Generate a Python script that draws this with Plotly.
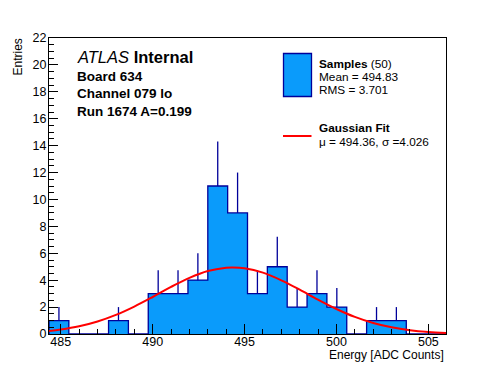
import numpy as np
import plotly.graph_objects as go

# ---------------- data ----------------
bin_low = 484.36
bin_width = 1.08
counts = [1, 0, 0, 1, 0, 3, 3, 4, 11, 9, 3, 5, 2, 3, 2, 0, 1, 1, 0, 0]

fit_x = [484.36, 485, 486, 487, 488, 489, 490, 491, 492, 493, 494, 494.36,
         495, 496, 497, 498, 499, 500, 501, 502, 503, 504, 505, 505.96]
fit_y = [0.226, 0.332, 0.573, 0.931, 1.42, 2.04, 2.75, 3.50, 4.17, 4.68, 4.93, 4.95,
         4.89, 4.56, 3.99, 3.29, 2.55, 1.86, 1.27, 0.818, 0.495, 0.282, 0.151, 0.078]

x_ticks = [485, 490, 495, 500, 505]
y_ticks = [0, 2, 4, 6, 8, 10, 12, 14, 16, 18, 20, 22]

# ---------------- styling ----------------
FILL = "#0a9bfb"
EDGE = "#00009a"
FONT = "Liberation Sans, Arial, Helvetica, sans-serif"
OFF = 8  # page body margin
W, H = 496 - 2 * OFF, 372 - 2 * OFF
# plot area in page pixels: x 49..446, y 38..334
L, T = 49 - OFF, 38 - OFF
R = W - (446 - OFF)
B = H - (334 - OFF)
PW, PH = W - L - R, H - T - B

n_bins = len(counts)
edges = [bin_low + i * bin_width for i in range(n_bins + 1)]
centers = [bin_low + (i + 0.5) * bin_width for i in range(n_bins)]
x_min, x_max = edges[0], edges[-1]

fig = go.Figure()

# filled histogram
fig.add_trace(go.Bar(x=centers, y=counts, width=[bin_width] * n_bins,
                     marker=dict(color=FILL, line=dict(width=0)),
                     showlegend=False, hoverinfo="skip"))

# outline (step)
sx = [edges[0]] + edges[:-1] + [edges[-1], edges[-1]]
sy = [0] + counts + [counts[-1], 0]
fig.add_trace(go.Scatter(x=sx, y=sy, mode="lines", line=dict(color=EDGE, width=1.3, shape="hv"),
                         showlegend=False, hoverinfo="skip"))

# upper error bars
ex, ey = [], []
for c, n in zip(centers, counts):
    if n > 0:
        ex += [c, c, None]
        ey += [n, n + np.sqrt(n), None]
fig.add_trace(go.Scatter(x=ex, y=ey, mode="lines", line=dict(color=EDGE, width=1.3),
                         showlegend=False, hoverinfo="skip"))

# gaussian fit curve
fig.add_trace(go.Scatter(x=fit_x, y=fit_y, mode="lines",
                         line=dict(color="#ff0000", width=2, shape="spline"),
                         showlegend=False, hoverinfo="skip"))


def px(x):
    return (x - 49) / PW


def py(y):
    return 1 - (y - 38) / PH


annotations = []


def txt(text, x, y, size, xanchor="left", yanchor="middle", angle=0):
    annotations.append(dict(text=text, x=px(x), y=py(y), xref="paper", yref="paper",
                            xanchor=xanchor, yanchor=yanchor, showarrow=False,
                            textangle=angle, font=dict(family=FONT, size=size, color="black")))


txt("<i>ATLAS</i> <b>Internal</b>", 75, 57, 16.5)
txt("<b>Board 634</b>", 75, 76, 13.5)
txt("<b>Channel 079 lo</b>", 75, 93.5, 13.5)
txt("<b>Run 1674 A=0.199</b>", 75, 111, 13.5)

txt("<b>Samples</b> (50)", 317, 64, 11.8)
txt("Mean = 494.83", 317, 77, 11.8)
txt("RMS = 3.701", 317, 90, 11.8)
txt("<b>Gaussian Fit</b>", 317, 128.5, 11.8)
txt("μ = 494.36, σ =4.026", 317, 141.5, 11.8)

txt("Entries", 17, 37, 12, xanchor="center", yanchor="top", angle=-90)
txt("Energy [ADC Counts]", 446, 355, 12, xanchor="right")

shapes = [
    dict(type="rect", xref="paper", yref="paper", x0=px(283.5), x1=px(311.5), y0=py(53.5), y1=py(96.5),
         fillcolor=FILL, line=dict(color=EDGE, width=1.3)),
    dict(type="line", xref="paper", yref="paper", x0=px(283), x1=px(311.5), y0=py(136), y1=py(136),
         line=dict(color="#ff0000", width=2)),
]

axis_common = dict(showline=True, linecolor="black", linewidth=1, mirror=True,
                   ticks="inside", tickcolor="black", tickwidth=1, showgrid=False, zeroline=False,
                   tickfont=dict(family=FONT, size=12.5, color="black"))

fig.update_layout(
    width=W, height=H, autosize=False,
    margin=dict(l=L, r=R, t=T, b=B, pad=0),
    paper_bgcolor="white", plot_bgcolor="white",
    bargap=0, showlegend=False,
    xaxis=dict(range=[x_min, x_max], tickmode="array", tickvals=x_ticks,
               ticktext=[str(v) for v in x_ticks], ticklen=10, ticklabelstandoff=-4,
               minor=dict(dtick=1, tick0=485, ticks="inside", ticklen=5, tickcolor="black", showgrid=False),
               **axis_common),
    yaxis=dict(range=[0, 22], tickmode="array", tickvals=y_ticks,
               ticktext=[str(v) for v in y_ticks], ticklen=9, ticklabelstandoff=-1,
               minor=dict(dtick=0.5, tick0=0, ticks="inside", ticklen=5, tickcolor="black", showgrid=False),
               **axis_common),
    annotations=annotations,
    shapes=shapes,
)

fig.write_html("out.html")
